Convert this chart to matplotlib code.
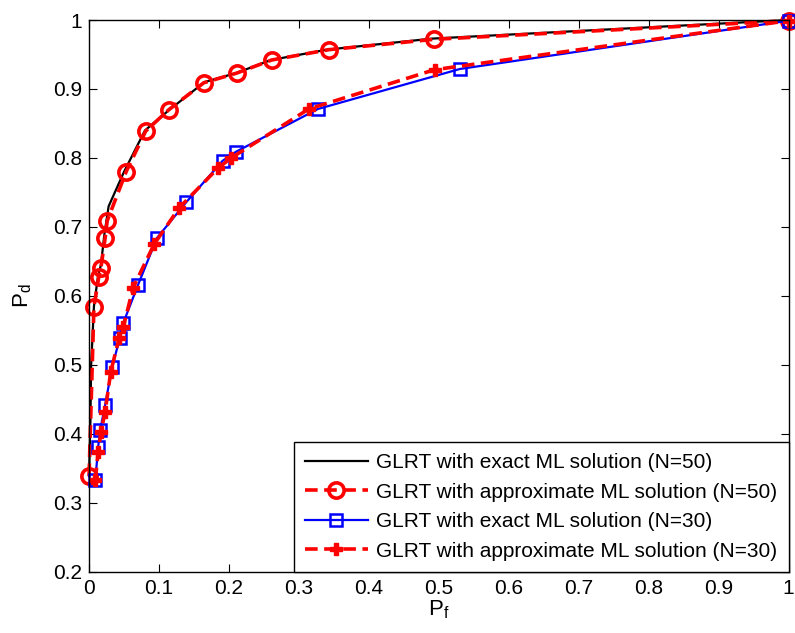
from matplotlib import pyplot as plt

plt.rcParams['font.family'] = ['Liberation Sans', 'DejaVu Sans']
plt.rcParams['mathtext.fontset'] = 'custom'
plt.rcParams['mathtext.rm'] = 'Liberation Sans'
plt.rcParams['mathtext.it'] = 'Liberation Sans'

# N=50, exact ML
pf_exact50 = [0.0, 0.002, 0.003, 0.007, 0.013, 0.017, 0.022, 0.028, 0.05, 0.08, 0.115, 0.165, 0.21, 0.26, 0.34, 0.49, 1.0]
pd_exact50 = [0.339, 0.42, 0.50, 0.585, 0.63, 0.645, 0.69, 0.73, 0.78, 0.84, 0.87, 0.91, 0.923, 0.942, 0.957, 0.973, 1.0]

# N=50, approximate ML
pf_appr50 = [0.0, 0.007, 0.014, 0.017, 0.023, 0.026, 0.053, 0.081, 0.114, 0.164, 0.211, 0.261, 0.343, 0.493, 1.0]
pd_appr50 = [0.339, 0.584, 0.628, 0.641, 0.684, 0.709, 0.780, 0.839, 0.870, 0.909, 0.923, 0.942, 0.957, 0.972, 0.999]

# N=30, exact ML
pf_exact30 = [0.009, 0.013, 0.016, 0.023, 0.033, 0.044, 0.049, 0.070, 0.097, 0.139, 0.191, 0.210, 0.327, 0.530, 1.0]
pd_exact30 = [0.333, 0.381, 0.406, 0.442, 0.497, 0.539, 0.561, 0.616, 0.684, 0.736, 0.796, 0.809, 0.871, 0.929, 0.999]

# N=30, approximate ML
pf_appr30 = [0.009, 0.013, 0.017, 0.023, 0.031, 0.043, 0.049, 0.063, 0.093, 0.129, 0.184, 0.203, 0.314, 0.494, 1.0]
pd_appr30 = [0.333, 0.374, 0.403, 0.432, 0.490, 0.539, 0.555, 0.612, 0.675, 0.728, 0.785, 0.800, 0.871, 0.928, 0.999]

fig = plt.figure(figsize=(7.95, 6.33), dpi=100)
ax = fig.add_axes([0.112, 0.0964, 0.880, 0.872])

ax.plot(pf_exact50, pd_exact50, color='black', lw=1.6, clip_on=False,
        label='GLRT with exact ML solution (N=50)')
ax.plot(pf_appr50, pd_appr50, color='red', lw=2.6, ls=(0, (3.5, 1.8)),
        marker='o', ms=11, mfc='none', mec='red', mew=2.6, clip_on=False,
        label='GLRT with approximate ML solution (N=50)')
ax.plot(pf_exact30, pd_exact30, color='blue', lw=1.6,
        marker='s', ms=9, mfc='none', mec='blue', mew=1.8, clip_on=False,
        label='GLRT with exact ML solution (N=30)')
ax.plot(pf_appr30, pd_appr30, color='red', lw=2.6, ls=(0, (3.5, 1.8)),
        marker='P', ms=9, mfc='red', mec='red', mew=1, clip_on=False,
        label='GLRT with approximate ML solution (N=30)')

ax.set_xlim(0, 1)
ax.set_ylim(0.2, 1)
ax.set_xticks([i / 10 for i in range(11)])
ax.set_yticks([0.2 + i / 10 for i in range(9)])
ax.set_xticklabels(['0', '0.1', '0.2', '0.3', '0.4', '0.5', '0.6', '0.7', '0.8', '0.9', '1'])
ax.set_yticklabels(['0.2', '0.3', '0.4', '0.5', '0.6', '0.7', '0.8', '0.9', '1'])
ax.tick_params(direction='in', top=True, right=True, labelsize=15, length=6, pad=5)
for s in ax.spines.values():
    s.set_linewidth(1.0)

ax.set_xlabel(r'P$_\mathrm{f}$', fontsize=16, labelpad=0)
ax.set_ylabel(r'P$_\mathrm{d}$', fontsize=16, labelpad=14)

leg = ax.legend(loc='lower right', fontsize=15, fancybox=False, edgecolor='black',
                framealpha=1, handlelength=3.0, borderaxespad=0, borderpad=0.55,
                labelspacing=0.5, handletextpad=0.4)
leg.get_frame().set_linewidth(1.0)
leg.set_zorder(5)

plt.savefig('out.png', dpi=100)
